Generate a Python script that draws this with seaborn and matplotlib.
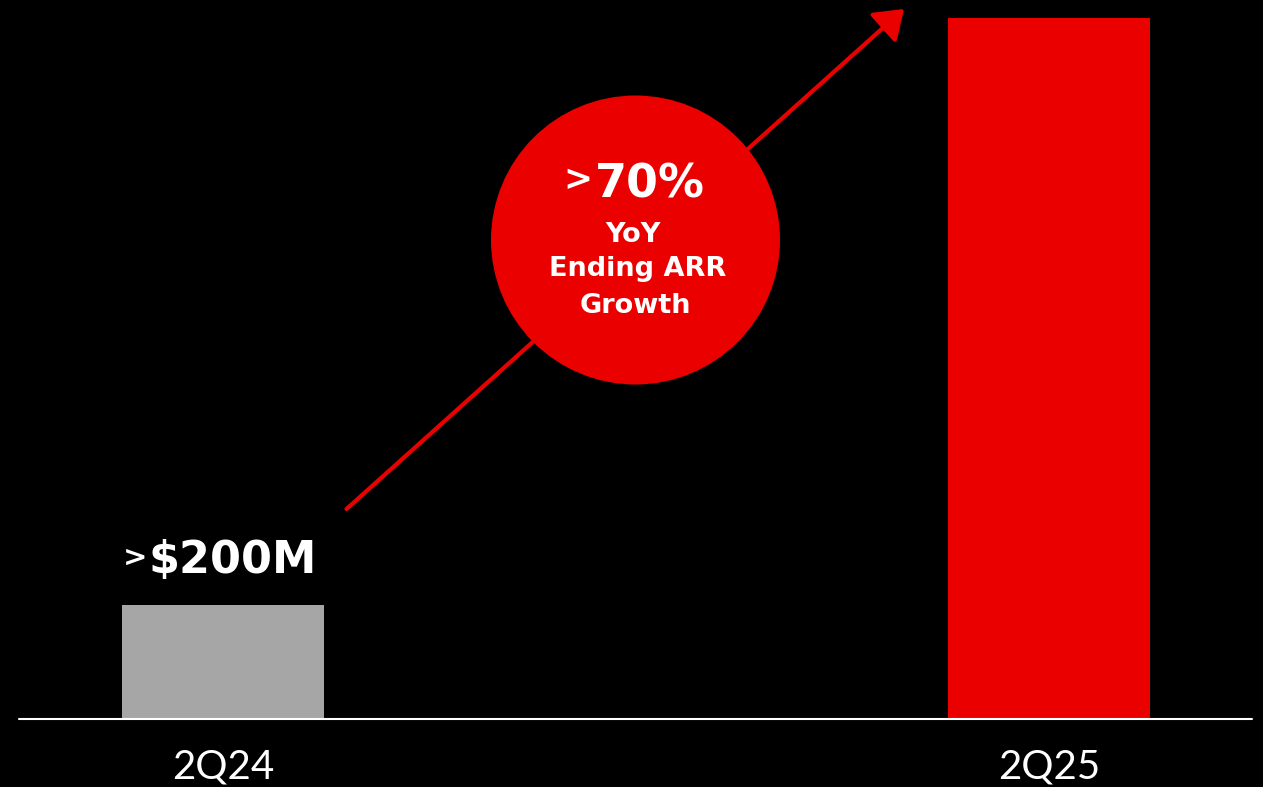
import matplotlib
matplotlib.use("Agg")
import matplotlib.pyplot as plt
import seaborn as sns
import pandas as pd
from matplotlib.patches import Circle, FancyArrowPatch

# Ending ARR by quarter ($M)
quarters = ["2Q24", "2Q25"]
arr_values = [200, 1230]
value_labels = [">$200M", ""]
growth_label = ">70%"
growth_caption = ["YoY", "Ending ARR", "Growth"]

RED = "#EB0000"
GRAY = "#A6A6A6"
W, H = 1263, 787

sns.set_theme(style="white")
plt.rcParams["font.family"] = ["DejaVu Sans"]

fig = plt.figure(figsize=(W / 100, H / 100), dpi=100, facecolor="black")
ax = fig.add_axes([19 / W, 1 - 719 / H, (1252 - 19) / W, 719 / H])
ax.set_facecolor("black")

df = pd.DataFrame({"quarter": quarters, "arr": arr_values})
sns.barplot(data=df, x="quarter", y="arr", hue="quarter",
            palette=[GRAY, RED], width=0.245, saturation=1,
            legend=False, linewidth=0, edgecolor="none", ax=ax)

ax.set_xlim(-0.247, 1.246)
ax.set_ylim(0, 200 * 719 / 114)
ax.set_xlabel("")
ax.set_ylabel("")
ax.set_yticks([])
for s in ax.spines.values():
    s.set_visible(False)
ax.axhline(0, color="white", lw=1.5, clip_on=False, zorder=5)
ax.tick_params(axis="x", length=0, pad=21, labelcolor="white", labelsize=29)
for lbl in ax.get_xticklabels():
    lbl.set_fontfamily(["Lato", "DejaVu Sans"])
    lbl.set_fontweight("normal")
    lbl.set_color("white")

# value label above the 2Q24 bar, with a small ">" prefix
for i, (v, lab) in enumerate(zip(arr_values, value_labels)):
    if not lab:
        continue
    ax.annotate(lab[1:], xy=(i, v), xytext=(-53.5, 23), textcoords="offset points",
                ha="left", va="baseline", color="white", fontsize=32,
                fontweight="bold")
    ax.annotate(lab[0], xy=(i, v), xytext=(-54.5, 28), textcoords="offset points",
                ha="right", va="baseline", color="white", fontsize=21,
                fontweight="bold")


def fx(px):
    return px / W


def fy(py):
    return 1 - py / H


# growth arrow
fig.patches.append(FancyArrowPatch(
    (fx(346.5), fy(509)), (fx(904), fy(9)), transform=fig.transFigure,
    arrowstyle="-|>,head_length=0.85,head_width=0.6", mutation_scale=20,
    color=RED, lw=3, shrinkA=0, shrinkB=0, zorder=3))

# growth bubble
fig.patches.append(Circle((635.5 / 100, (H - 240) / 100), 1.445,
                          transform=fig.dpi_scale_trans, facecolor=RED,
                          edgecolor="none", zorder=4))

fig.text(fx(650), fy(197), growth_label[1:], ha="center", va="baseline",
         color="white", fontsize=33, fontweight="bold", zorder=6)
fig.text(fx(592), fy(190), growth_label[0], ha="right", va="baseline",
         color="white", fontsize=25, fontweight="bold", zorder=6)
for line, (cx, by) in zip(growth_caption, [(632.5, 242), (638, 276), (635.5, 313)]):
    fig.text(fx(cx), fy(by), line, ha="center", va="baseline", color="white",
             fontsize=19.5, fontweight="bold", zorder=6)

fig.savefig("out.png", dpi=100, facecolor="black")
